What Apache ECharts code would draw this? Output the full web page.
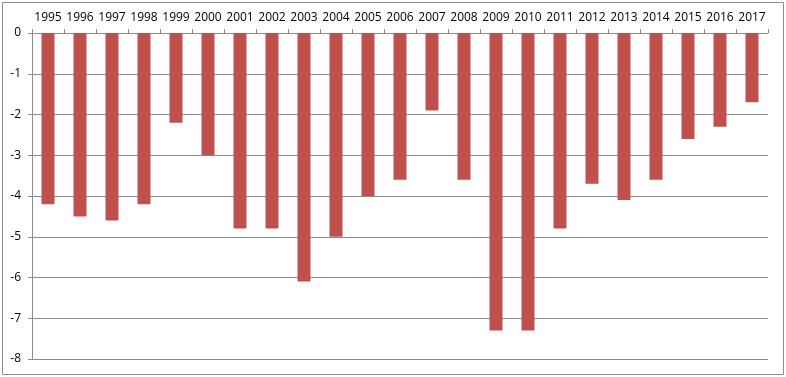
<!DOCTYPE html>
<html>
<head>
<meta charset="utf-8">
<script src="https://cdn.jsdelivr.net/npm/echarts@6/dist/echarts.min.js"></script>
<style>
  html, body { margin: 0; padding: 0; background: #fff; }
  #chart { width: 786px; height: 377px; }
</style>
</head>
<body>
<div id="chart"></div>
<script>
const years = ['1995', '1996', '1997', '1998', '1999', '2000', '2001', '2002', '2003', '2004', '2005', '2006',
  '2007', '2008', '2009', '2010', '2011', '2012', '2013', '2014', '2015', '2016', '2017'];
const values = [-4.2, -4.5, -4.6, -4.2, -2.2, -3.0, -4.8, -4.8, -6.1, -5.0, -4.0, -3.6,
  -1.9, -3.6, -7.3, -7.3, -4.8, -3.7, -4.1, -3.6, -2.6, -2.3, -1.7];

const myChart = echarts.init(document.getElementById('chart'));
const lineColor = '#8c8c8c';

const option = {
  animation: false,
  backgroundColor: '#fff',
  graphic: [{
    type: 'rect',
    shape: { x: 2.5, y: 2.5, width: 781, height: 372 },
    style: { fill: 'none', stroke: '#8c8c8c', lineWidth: 1 },
    silent: true
  }],
  grid: { // 画布区域
    left: 32,
    right: 18,
    top: 33,
    bottom: 18
  },
  xAxis: {
    type: 'category',
    position: 'top',
    data: years,
    axisLine: { lineStyle: { color: lineColor } },
    axisTick: { show: true, length: 4, lineStyle: { color: lineColor } },
    axisLabel: {
      interval: 0,
      margin: 9,
      color: '#000',
      fontFamily: 'Open Sans',
      fontSize: 12
    }
  },
  yAxis: {
    type: 'value',
    min: -8,
    max: 0,
    interval: 1,
    axisLine: { show: true, lineStyle: { color: lineColor } },
    axisTick: { show: true, length: 4, lineStyle: { color: lineColor } },
    splitLine: { lineStyle: { color: lineColor } },
    axisLabel: {
      margin: 11,
      color: '#000',
      fontFamily: 'Open Sans',
      fontSize: 12
    }
  },
  series: [{
    type: 'bar',
    data: values,
    barWidth: 13,
    itemStyle: { color: '#c0504d' }
  }]
};
myChart.setOption(option);
</script>
</body>
</html>
